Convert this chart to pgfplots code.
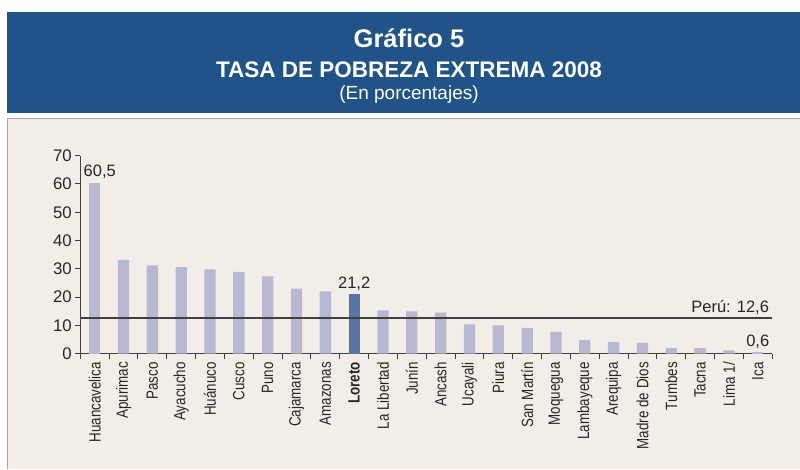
\documentclass[border=0pt]{standalone}
\usepackage{pgfplots}
\pgfplotsset{compat=1.18}
\usepackage{fontspec}
\setmainfont{Liberation Sans}
\newfontfamily\narrowfont{Liberation Sans}[FakeStretch=0.82]
\definecolor{hdr}{RGB}{32,83,135}
\definecolor{bg}{RGB}{242,238,231}
\definecolor{barc}{RGB}{183,184,210}
\definecolor{lor}{RGB}{88,117,163}
\definecolor{axc}{RGB}{64,64,64}
\begin{document}
\begin{tikzpicture}[x=1pt,y=1pt]
\path[use as bounding box] (0,0) rectangle (800,469);
\fill[white] (0,0) rectangle (800,469);
\fill[hdr] (7,356) rectangle (800,457);
\fill[bg] (7,0) rectangle (800,351);
\draw[gray!70, line width=1.2pt] (7.6,0) -- (7.6,350.4) -- (800,350.4);
\node[white, anchor=base, inner sep=0pt, font=\bfseries\fontsize{25.5}{28}\selectfont] at (409,421.7) {Gráfico 5};
\node[white, anchor=base, inner sep=0pt, font=\bfseries\fontsize{22.5}{26}\selectfont] at (409,391.7) {TASA DE POBREZA EXTREMA 2008};
\node[white, anchor=base, inner sep=0pt, font=\fontsize{19}{22}\selectfont] at (409,369.5) {(En porcentajes)};
\begin{axis}[
  at={(80.3pt,115.3pt)}, anchor=south west,
  scale only axis, width=691.9pt, height=198pt,
  xmin=-0.5, xmax=23.5, ymin=0, ymax=70,
  axis x line*=bottom, axis y line*=left,
  axis line style={-, axc, line width=1pt},
  tick style={axc, line width=1pt},
  tick align=outside,
  major tick length=5pt, minor tick length=5pt,
  major x tick style={draw=none},
  xtick={0,...,23},
  minor xtick={-0.5,0.5,1.5,2.5,3.5,4.5,5.5,6.5,7.5,8.5,9.5,10.5,11.5,12.5,13.5,14.5,15.5,16.5,17.5,18.5,19.5,20.5,21.5,22.5,23.5},
  xticklabels={Huancavelica,Apurimac,Pasco,Ayacucho,Huánuco,Cusco,Puno,Cajamarca,Amazonas,\textbf{Loreto},La Libertad,Junín,Ancash,Ucayali,Piura,San Martín,Moquegua,Lambayeque,Arequipa,Madre de Dios,Tumbes,Tacna,Lima 1/,Ica},
  xticklabel style={rotate=90, anchor=east, font=\narrowfont\fontsize{16.3}{18}\selectfont, text=black!85},
  ytick={0,10,...,70},
  yticklabel style={font=\fontsize{16.8}{18}\selectfont, text=black!85},
  /pgf/number format/assume math mode=true,
  clip=false,
]
\addplot[ybar, bar width=11.3pt, bar shift=0pt, fill=barc, draw=none] coordinates {
 (1,33.2) (2,31.2) (3,30.6) (4,29.8) (5,28.9) (6,27.3) (7,23.0) (8,22.0)
 (10,15.3) (11,15.0) (12,14.5) (13,10.4) (14,10.0) (15,9.1) (16,7.7)
 (17,4.8) (18,4.2) (19,3.8) (20,2.0) (21,2.0) (22,1.2)};
\addplot[ybar, bar width=11.3pt, bar shift=0pt, fill=barc, draw=none,
  nodes near coords, nodes near coords style={xshift=5pt, font=\fontsize{16.5}{18}\selectfont, text=black!85, /pgf/number format/.cd, use comma, fixed, fixed zerofill, precision=1}] coordinates {
 (0,60.5)};
\addplot[ybar, bar width=11.3pt, bar shift=0pt, fill=barc, draw=none,
  nodes near coords, nodes near coords style={font=\fontsize{16.5}{18}\selectfont, text=black!85, /pgf/number format/.cd, use comma, fixed, fixed zerofill, precision=1}] coordinates {
 (23,0.6)};
\addplot[ybar, bar width=11.3pt, bar shift=0pt, fill=lor, draw=none,
  nodes near coords, nodes near coords style={font=\fontsize{16.5}{18}\selectfont, text=black!85, /pgf/number format/.cd, use comma, fixed, fixed zerofill, precision=1}] coordinates {
 (9,21.2)};
\addplot[sharp plot, axc, line width=1.2pt, mark=none] coordinates {(-0.5,12.6) (23.5,12.6)};
\node[anchor=base east, inner sep=0pt, text=black!85, font=\fontsize{16.5}{18}\selectfont] at (axis cs:23.5,12.6) [xshift=-3pt, yshift=6pt] {Perú: 12,6};
\end{axis}
\end{tikzpicture}
\end{document}
